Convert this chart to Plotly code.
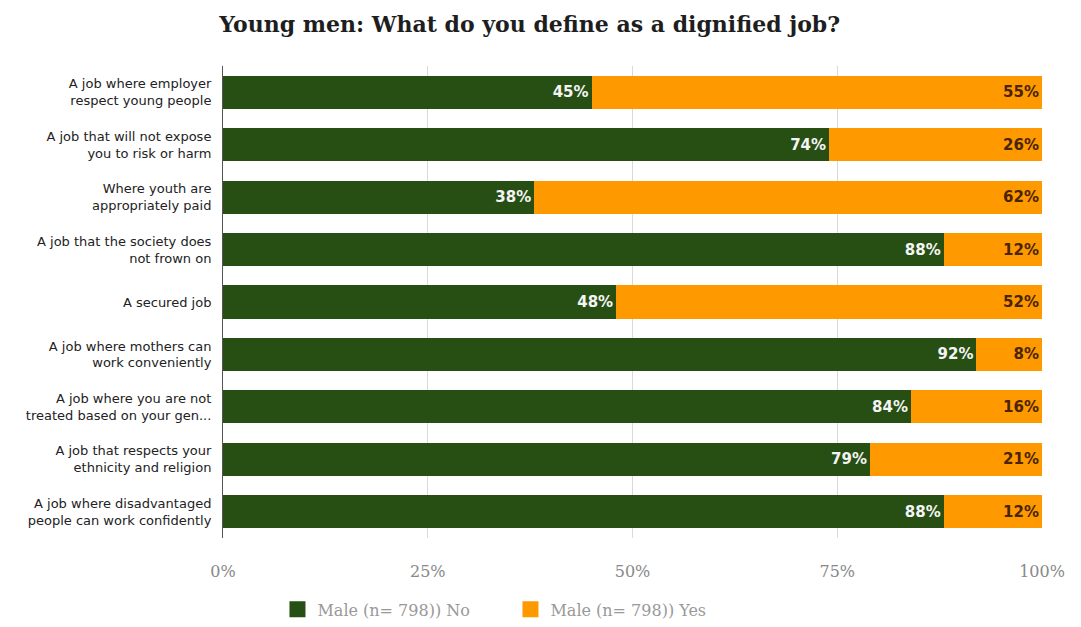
import plotly.graph_objects as go

categories = [
    "A job where employer<br>respect young people",
    "A job that will not expose<br>you to risk or harm",
    "Where youth are<br>appropriately paid",
    "A job that the society does<br>not frown on",
    "A secured job",
    "A job where mothers can<br>work conveniently",
    "A job where you are not<br>treated based on your gen...",
    "A job that respects your<br>ethnicity and religion",
    "A job where disadvantaged<br>people can work confidently",
]
no_values = [45, 74, 38, 88, 48, 92, 84, 79, 88]
yes_values = [55, 26, 62, 12, 52, 8, 16, 21, 12]
series_names = ["Male (n= 798)) No", "Male (n= 798)) Yes"]
tick_values = [0, 25, 50, 75, 100]
tick_labels = ["0%", "25%", "50%", "75%", "100%"]

GREEN = "#274e13"
ORANGE = "#ff9900"
SANS = "DejaVu Sans, Verdana, sans-serif"
SERIF = "DejaVu Serif, Georgia, serif"

fig = go.Figure()
fig.add_trace(go.Bar(
    y=categories, x=no_values, orientation="h",
    name=series_names[0], showlegend=False,
    marker=dict(color=GREEN, line=dict(width=0)),
    text=[f"{v}%" for v in no_values],
    textposition="inside", insidetextanchor="end",
    textfont=dict(family=SANS, size=15, color="#f4f4f4", weight="bold"),
))
fig.add_trace(go.Bar(
    y=categories, x=yes_values, orientation="h",
    name=series_names[1], showlegend=False,
    marker=dict(color=ORANGE, line=dict(width=0)),
    text=[f"{v}%" for v in yes_values],
    textposition="inside", insidetextanchor="end",
    textfont=dict(family=SANS, size=15, color="#4a2405", weight="bold"),
))

# legend entries with larger square swatches
for name, color in zip(series_names, [GREEN, ORANGE]):
    fig.add_trace(go.Scatter(
        x=[None], y=[None], mode="markers", name=name,
        marker=dict(symbol="square", size=16, color=color),
        showlegend=True,
    ))

fig.update_layout(
    width=1081, height=627,
    barmode="stack", bargap=0.37,
    plot_bgcolor="#ffffff", paper_bgcolor="#ffffff",
    margin=dict(l=223, r=39, t=66, b=89, autoexpand=False),
    title=dict(
        text="<b>Young men: What do you define as a dignified job?</b>",
        x=0.49, xanchor="center", y=0.962, yanchor="middle",
        font=dict(family=SERIF, size=22, color="#1e1e1e"),
    ),
    xaxis=dict(
        range=[0, 100], tickvals=tick_values, ticktext=tick_labels,
        showgrid=True, gridcolor="#d9d9d9", gridwidth=1,
        zeroline=False, showline=False, automargin=False,
        tickfont=dict(family=SERIF, size=16, color="#888888"),
        ticks="", ticklabelstandoff=22,
    ),
    yaxis=dict(
        autorange="reversed", automargin=False,
        showline=True, linecolor="#555555", linewidth=1,
        tickfont=dict(family=SANS, size=13, color="#222222"),
        ticks="", ticklabelstandoff=8,
    ),
    legend=dict(
        orientation="h", x=0.351, xanchor="center",
        yref="container", y=0.028, yanchor="middle",
        font=dict(family=SERIF, size=16, color="#999999"),
        traceorder="normal", itemwidth=30,
        entrywidth=188, entrywidthmode="pixels",
    ),
    uniformtext=dict(mode="show", minsize=10),
)

fig.write_html("out.html")
